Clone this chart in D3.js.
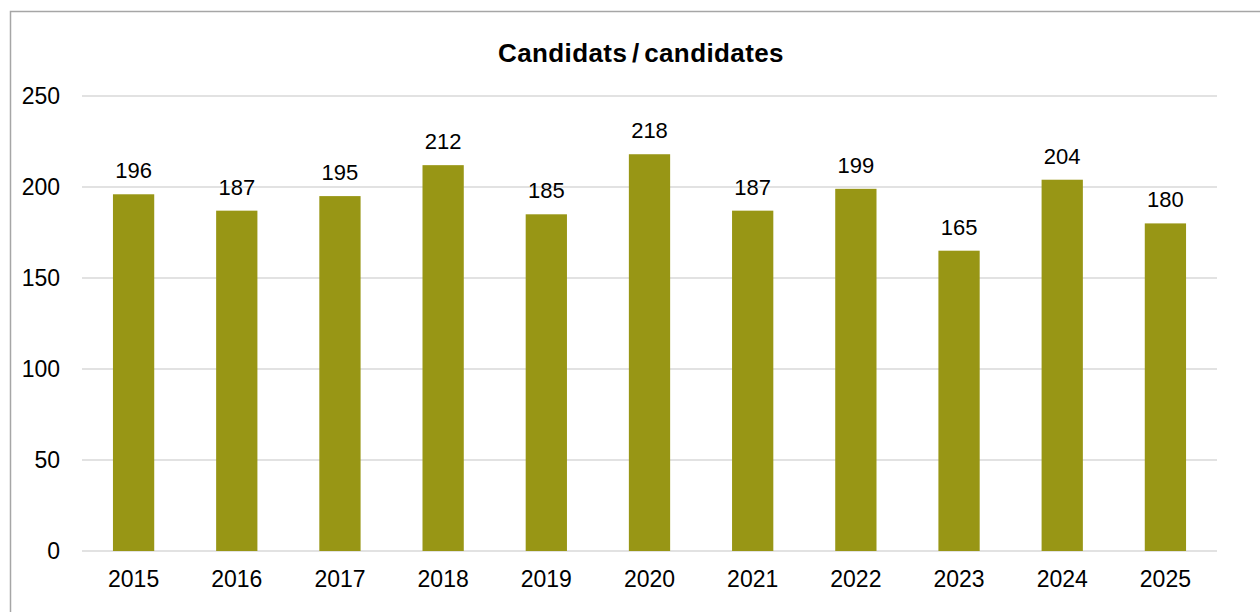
<!DOCTYPE html>
<html>
<head>
<meta charset="utf-8">
<script src="https://cdn.jsdelivr.net/npm/d3@7"></script>
<style>
  body { margin: 0; background: #fff; }
  svg { font-family: "Liberation Sans", Arial, sans-serif; }
</style>
</head>
<body>
<div id="chart"></div>
<script>
// data
var years = ["2015", "2016", "2017", "2018", "2019", "2020", "2021", "2022", "2023", "2024", "2025"];
var candidates = [196, 187, 195, 212, 185, 218, 187, 199, 165, 204, 180];
var yTicks = [0, 50, 100, 150, 200, 250];

var W = 1260, H = 612;
var margin = {top: 96, right: 43, bottom: 61, left: 82},
    width = W - margin.left - margin.right,
    height = H - margin.top - margin.bottom;

var svg = d3.select("#chart")
  .append("svg")
    .attr("width", W)
    .attr("height", H);

// chart frame (only top and left edges visible)
svg.append("path")
  .attr("d", "M10.5," + H + "V11.5H" + W)
  .attr("fill", "none")
  .attr("stroke", "#a6a6a6")
  .attr("stroke-width", 1.5);

// title
svg.append("text")
  .attr("x", 641)
  .attr("y", 62)
  .attr("text-anchor", "middle")
  .style("font-size", "26px")
  .style("font-weight", "bold")
  .style("letter-spacing", "0.4px")
  .style("word-spacing", "-3px")
  .style("fill", "#000")
  .text("Candidats / candidates");

var g = svg.append("g")
  .attr("transform", "translate(" + margin.left + "," + margin.top + ")");

var x = d3.scaleBand()
  .domain(years)
  .range([0, width])
  .paddingInner(0.6)
  .paddingOuter(0.3);

var y = d3.scaleLinear()
  .domain([0, 250])
  .range([height, 0]);

// gridlines
g.append("g")
  .selectAll("line")
  .data(yTicks)
  .enter().append("line")
    .attr("x1", 0)
    .attr("x2", width)
    .attr("y1", function(d) { return y(d); })
    .attr("y2", function(d) { return y(d); })
    .attr("stroke", "#d9d9d9")
    .attr("stroke-width", 1.5);

// y axis labels
var yAxis = g.append("g")
  .call(d3.axisLeft(y).tickValues(yTicks).tickSize(0).tickPadding(22));
yAxis.select(".domain").remove();
yAxis.selectAll("text")
  .style("font-size", "23px")
  .style("fill", "#000")
  .attr("font-family", null);

// x axis labels
var xAxis = g.append("g")
  .attr("transform", "translate(0," + height + ")")
  .call(d3.axisBottom(x).tickSize(0).tickPadding(20));
xAxis.select(".domain").remove();
xAxis.selectAll("text")
  .style("font-size", "23px")
  .style("fill", "#000")
  .attr("font-family", null);

// bars
g.selectAll(".bar")
  .data(candidates)
  .enter().append("rect")
    .attr("class", "bar")
    .attr("x", function(d, i) { return x(years[i]); })
    .attr("width", x.bandwidth())
    .attr("y", function(d) { return y(d); })
    .attr("height", function(d) { return height - y(d); })
    .attr("fill", "#989615");

// value labels
g.selectAll(".label")
  .data(candidates)
  .enter().append("text")
    .attr("class", "label")
    .attr("x", function(d, i) { return x(years[i]) + x.bandwidth() / 2; })
    .attr("y", function(d) { return y(d) - 16; })
    .attr("text-anchor", "middle")
    .style("font-size", "22px")
    .style("fill", "#000")
    .text(function(d) { return d; });
</script>
</body>
</html>
